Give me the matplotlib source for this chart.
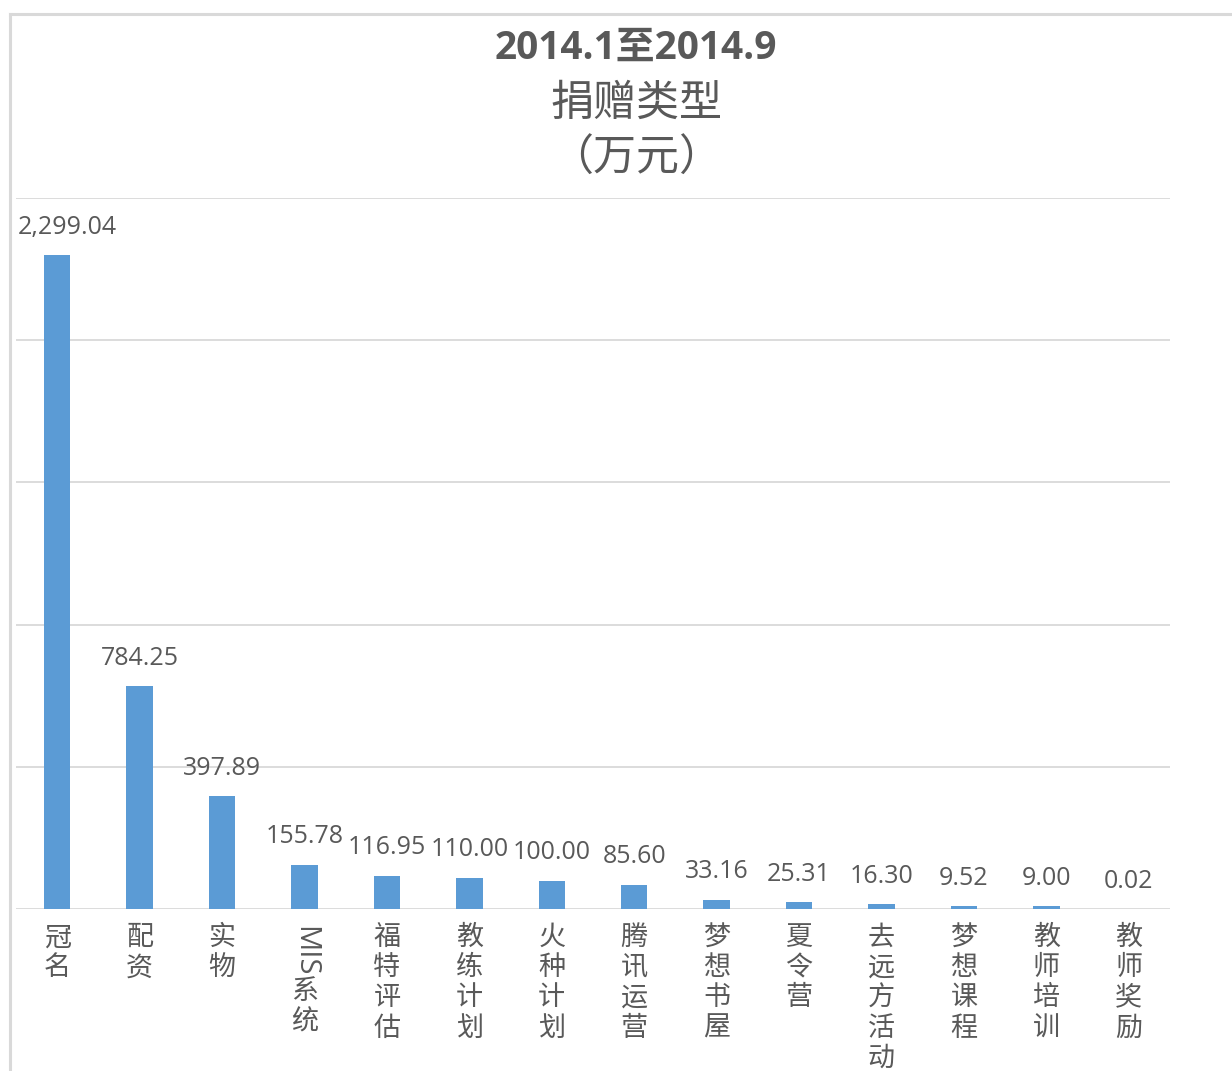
import matplotlib
matplotlib.use('Agg')
import matplotlib.pyplot as plt
from matplotlib.lines import Line2D
import numpy as np

plt.rcParams['font.family'] = ['Open Sans', 'Noto Sans CJK SC', 'DejaVu Sans']

# data
categories = ['冠名', '配资', '实物', 'MIS系统', '福特评估', '教练计划', '火种计划',
              '腾讯运营', '梦想书屋', '夏令营', '去远方活动', '梦想课程', '教师培训', '教师奖励']
values = [2299.04, 784.25, 397.89, 155.78, 116.95, 110.00, 100.00,
          85.60, 33.16, 25.31, 16.30, 9.52, 9.00, 0.02]
title_lines = ['2014.1至2014.9', '捐赠类型', '（万元）']

W, H = 1232, 1071
fig = plt.figure(figsize=(W / 100, H / 100), dpi=100)
ax = fig.add_axes([16 / W, 1 - 909 / H, (1170 - 16) / W, (909 - 198) / H])

bar_color = '#5B9BD5'
grid_color = '#D9D9D9'
text_color = '#595959'

x = np.arange(len(categories))
ax.bar(x, values, width=0.32, color=bar_color, zorder=3)
ax.set_xlim(-0.5, len(categories) - 0.5)
ax.set_ylim(0, 2500)
ax.set_yticks(np.arange(0, 2501, 500))
ax.yaxis.grid(True, color=grid_color, linewidth=1.3, zorder=0)
ax.tick_params(left=False, bottom=False, labelleft=False, labelbottom=False)
for s in ax.spines.values():
    s.set_visible(False)

# value labels (first one nudged right so it stays inside the chart area)
for xi, v in zip(x, values):
    dx = 7 if xi == 0 else 0
    ax.annotate(f'{v:,.2f}', xy=(xi, v), xytext=(dx, 11), textcoords='offset points',
                ha='center', va='bottom', fontsize=18, color=text_color)

# category labels, stacked vertically like Excel
cat_fs = 19.5
ls = 1.1
for xi, cat in zip(x, categories):
    if cat.startswith('MIS'):
        ax.annotate('MIS', xy=(xi, 0), xytext=(0, -12), textcoords='offset points',
                    ha='center', va='top', rotation=-90, fontsize=21, color=text_color)
        ax.annotate('\n'.join(cat[3:]), xy=(xi, 0), xytext=(0, -50), textcoords='offset points',
                    ha='center', va='top', fontsize=cat_fs, color=text_color, linespacing=ls)
    else:
        ax.annotate('\n'.join(cat), xy=(xi, 0), xytext=(0, -11), textcoords='offset points',
                    ha='center', va='top', fontsize=cat_fs, color=text_color, linespacing=ls)

# title
cx = 636 / W
fig.text(cx, 1 - 48 / H, title_lines[0], ha='center', va='center', fontsize=28,
         fontweight='bold', color=text_color)
fig.text(cx, 1 - 105 / H, title_lines[1], ha='center', va='center', fontsize=31, color=text_color)
fig.text(cx, 1 - 160 / H, title_lines[2], ha='center', va='center', fontsize=31, color=text_color)

# chart frame (screenshot crop)
fig.add_artist(Line2D([10 / W, 10 / W], [0, 1 - 14 / H], transform=fig.transFigure,
                      color=grid_color, linewidth=2.2))
fig.add_artist(Line2D([10 / W, 1], [1 - 14 / H, 1 - 14 / H], transform=fig.transFigure,
                      color=grid_color, linewidth=2.2))

fig.savefig('out.png', dpi=100)
